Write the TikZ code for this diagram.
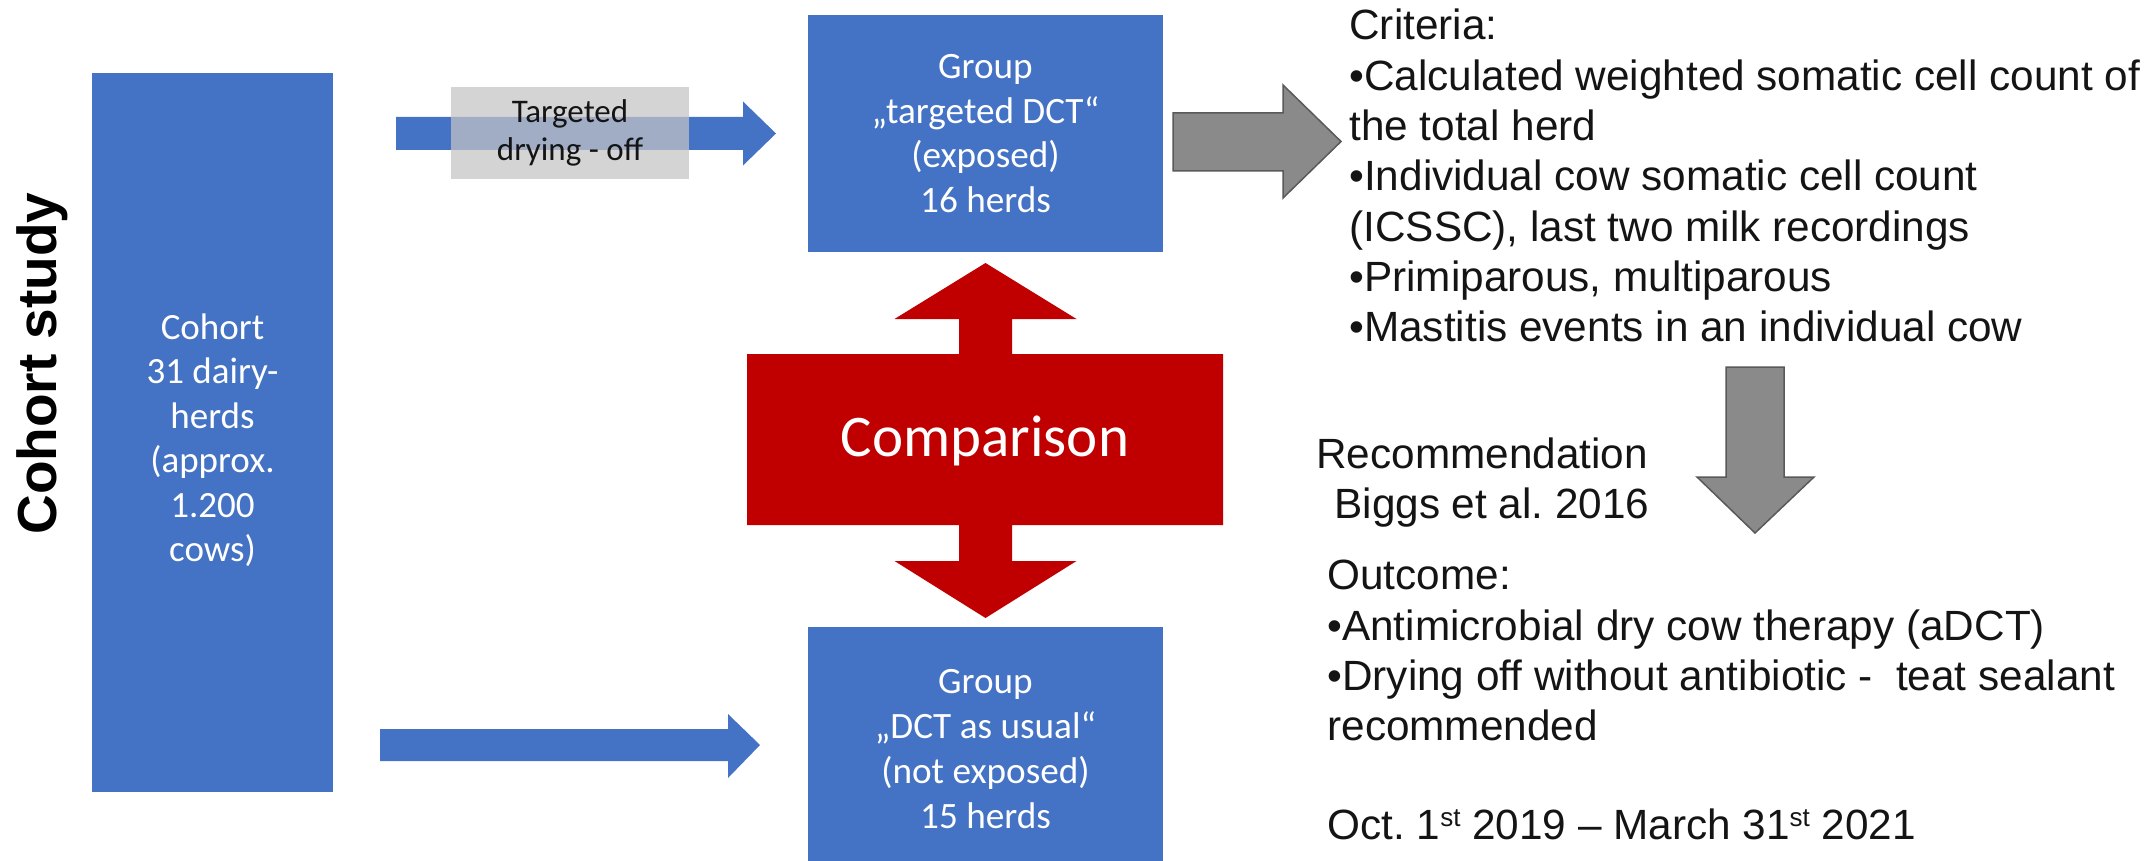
\documentclass[tikz,border=0pt]{standalone}
\usepackage{fontspec}
\setmainfont{Liberation Sans}
\newfontfamily\calib{Carlito}
\usetikzlibrary{calc}
\definecolor{offblue}{RGB}{68,114,196}
\definecolor{offred}{RGB}{192,0,0}
\definecolor{arrgray}{RGB}{138,138,138}
\definecolor{arredge}{RGB}{89,89,89}
\definecolor{lblgray}{RGB}{196,196,196}
\definecolor{txtdark}{RGB}{20,20,20}
\newcommand{\supst}{\raisebox{0.55ex}{\fontsize{13}{13}\selectfont st}}
\begin{document}
\begin{tikzpicture}[x=0.5pt,y=-0.5pt,
  bluebox/.style={fill=offblue, draw=none, inner sep=0pt, text=white, align=center,
    font=\calib\fontsize{18.6}{22.4}\selectfont},
  rtext/.style={anchor=base west, inner sep=0pt, text=txtdark,
    font=\fontsize{21.15}{25.2}\selectfont},
  blockarrow/.style={fill=offblue, draw=none},
  grayarrow/.style={fill=arrgray, draw=arredge, line width=0.75pt, line join=miter},
  redarrow/.style={fill=offred, draw=none}
]
\useasboundingbox (0,0) rectangle (2150,861);

% side title
\node[rotate=90, anchor=base, inner sep=0pt, font=\bfseries\fontsize{27.5}{33}\selectfont]
  (title) at (56,363.5) {Cohort study};

% boxes
\node[bluebox, minimum width=120.5pt, minimum height=359.5pt] (cohort) at (212.5,432.5) {};
\node[align=center, text=white, inner sep=0pt, font=\calib\fontsize{18.5}{22.25}\selectfont]
  (cohorttxt) at (212.5,440) {Cohort\\31 dairy-\\herds\\(approx.\\1.200\\cows)};

\node[bluebox, minimum width=177.5pt, minimum height=118.5pt] (gtop) at (985.5,133.5)
  {Group\\„targeted DCT“\\(exposed)\\16 herds};
\node[bluebox, minimum width=177.5pt, minimum height=117pt] (gbot) at (985.5,744) {};
\node[align=center, text=white, inner sep=0pt, font=\calib\fontsize{18.6}{22.4}\selectfont]
  (gbottxt) at (985.5,749) {Group\\„DCT as usual“\\(not exposed)\\15 herds};

% blue arrows
\coordinate (a1s) at (396,133.5);
\coordinate (a1e) at (776,133.5);
\fill[blockarrow] ($(a1s)+(0,-16.5)$) -- ($(a1e)+(-33,-16.5)$) -- ($(a1e)+(-33,-32)$) -- (a1e)
  -- ($(a1e)+(-33,32)$) -- ($(a1e)+(-33,16.5)$) -- ($(a1s)+(0,16.5)$) -- cycle;
\node[fill=lblgray, fill opacity=0.72, text opacity=1, minimum width=119pt, minimum height=46pt,
  inner sep=0pt, align=center, text=txtdark, font=\calib\fontsize{16.5}{19}\selectfont]
  (lbl) at (570,133) {Targeted\\drying - off};

\coordinate (a2s) at (380,745);
\coordinate (a2e) at (760,745);
\fill[blockarrow] ($(a2s)+(0,-16)$) -- ($(a2e)+(-32,-16)$) -- ($(a2e)+(-32,-31)$) -- (a2e)
  -- ($(a2e)+(-32,33)$) -- ($(a2e)+(-32,16)$) -- ($(a2s)+(0,16)$) -- cycle;

% red double arrow
\fill[redarrow] (985.5,263) -- (1076.5,319) -- (1012,319) -- (1012,354) -- (1223,354)
  -- (1223,525) -- (1012,525) -- (1012,561) -- (1076.5,561) -- (985.5,618) -- (894.5,561)
  -- (959,561) -- (959,525) -- (747,525) -- (747,354) -- (959,354) -- (959,319)
  -- (894.5,319) -- cycle;
\node[text=white, inner sep=0pt, font=\calib\fontsize{29.5}{35}\selectfont]
  (comp) at (985,441) {Comparison};

% gray arrows
\filldraw[grayarrow] (1173,113) -- (1283,113) -- (1283,85) -- (1341,141.5) -- (1283,198)
  -- (1283,171) -- (1173,171) -- cycle;
\filldraw[grayarrow] (1726,367) -- (1784,367) -- (1784,477) -- (1814,477) -- (1755,533)
  -- (1697,477) -- (1726,477) -- cycle;

% criteria text
\node[rtext] (c0) at (1349,40) {Criteria:};
\node[rtext] (c1) at (1349,90.3) {•Calculated weighted somatic cell count of};
\node[rtext] (c2) at (1349,140.6) {the total herd};
\node[rtext] (c3) at (1349,190.9) {•Individual cow somatic cell count};
\node[rtext] (c4) at (1349,241.2) {(ICSSC), last two milk recordings};
\node[rtext] (c5) at (1349,291.5) {•Primiparous, multiparous};
\node[rtext] (c6) at (1349,341.8) {•Mastitis events in an individual cow};

\node[rtext] (r0) at (1316,468) {Recommendation};
\node[rtext] (r1) at (1334,518) {Biggs et al.\ 2016};

\node[rtext] (o0) at (1327,589) {Outcome:};
\node[rtext] (o1) at (1327,640) {•Antimicrobial dry cow therapy (aDCT)};
\node[rtext] (o2) at (1327,690) {•Drying off without antibiotic - \ teat sealant};
\node[rtext] (o3) at (1327,740) {recommended};
\node[rtext] (o4) at (1327,839) {Oct.\ 1\supst{} 2019 – March 31\supst{} 2021};
\end{tikzpicture}
\end{document}
